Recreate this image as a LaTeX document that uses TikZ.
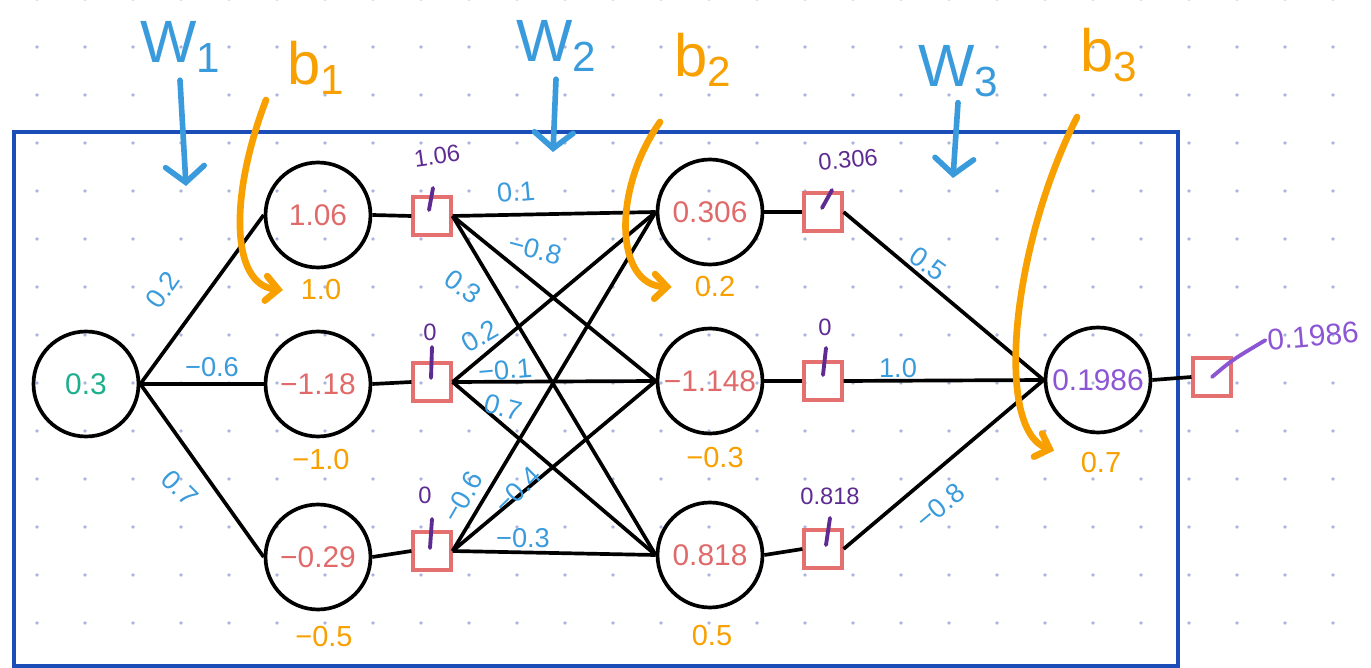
\documentclass[tikz,border=0pt]{standalone}
\usepackage{fontspec}
\setmainfont{Liberation Sans}
\usepackage{tikz}
\usetikzlibrary{
  arrows.meta,
  positioning,
  calc
}
\definecolor{frameBlue}{HTML}{1B4DB8}
\definecolor{dotGray}{HTML}{A9B6D8}
\definecolor{valRed}{HTML}{E06A6A}
\definecolor{boxRed}{HTML}{E57070}
\definecolor{wBlue}{HTML}{3A9BDC}
\definecolor{bOrange}{HTML}{F7A000}
\definecolor{inGreen}{HTML}{1DAF8C}
\definecolor{outPurple}{HTML}{8C55D4}
\definecolor{actPurple}{HTML}{5E2B92}
\newcommand{\lowsub}[1]{\raisebox{-6pt}{\fontsize{24}{26}\selectfont #1}}
\tikzset{
  neur/.style={
    circle, draw=black, line width=2.1pt, minimum size=2.1cm,
    inner sep=0pt, font=\fontsize{17}{20}\selectfont
  },
  actbox/.style={
    rectangle, draw=boxRed, line width=1.8pt, minimum size=0.76cm,
    inner sep=0pt
  },
  wlbl/.style={text=wBlue, font=\fontsize{15.5}{18}\selectfont, inner sep=1pt},
  blbl/.style={text=bOrange, font=\fontsize{16.5}{19}\selectfont, inner sep=1pt},
  albl/.style={text=actPurple, font=\fontsize{13.5}{16}\selectfont, inner sep=1pt},
  biglbl/.style={font=\fontsize{34}{38}\selectfont, inner sep=1pt},
  conn/.style={line width=2.1pt, draw=black},
  tick/.style={line width=2.2pt, draw=actPurple, line cap=round},
  warr/.style={line width=3.2pt, draw=wBlue, line cap=round,
    -{Straight Barb[length=9pt, width=22pt, line cap=round]}},
  barr/.style={line width=3.8pt, draw=bOrange, line cap=round,
    -{Straight Barb[length=7pt, width=14pt, line cap=round]}}
}

\begin{document}
\begin{tikzpicture}[x=0.02cm, y=-0.02cm]

    \useasboundingbox (0,0) rectangle (1371,668);

    % dotted paper
    \foreach \i in {0,...,27}{
      \foreach \j in {0,...,13}{
        \fill[dotGray] (37+48*\i, -1+48*\j) circle (1.1pt);
      }
    }

    \draw[frameBlue, line width=2.8pt] (14,132) rectangle (1178,666);

    % neurons
    \node[neur, text=inGreen] (inp) at (86,384) {0.3};

    \node[neur, text=valRed] (h1a) at (318,215) {1.06};
    \node[neur, text=valRed] (h1b) at (318,384) {−1.18};
    \node[neur, text=valRed] (h1c) at (318,557) {−0.29};

    \node[actbox] (q1a) at (432,216) {};
    \node[actbox] (q1b) at (432,382) {};
    \node[actbox] (q1c) at (432,551) {};

    \node[neur, text=valRed] (h2a) at (710,212) {0.306};
    \node[neur, text=valRed] (h2b) at (710,381) {−1.148};
    \node[neur, text=valRed] (h2c) at (710,555) {0.818};

    \node[actbox] (q2a) at (823,212) {};
    \node[actbox] (q2b) at (823,381) {};
    \node[actbox] (q2c) at (823,549) {};

    \node[neur, text=outPurple] (outn) at (1098,380) {0.1986};
    \node[actbox] (fsq) at (1212,377) {};

    % connections
    \draw[conn] (inp.east) -- (h1a.west);
    \draw[conn] (inp.east) -- (h1b.west);
    \draw[conn] (inp.east) -- (h1c.west);

    \draw[conn] (h1a.east) -- (q1a.west);
    \draw[conn] (h1b.east) -- (q1b.west);
    \draw[conn] (h1c.east) -- (q1c.west);

    \draw[conn] (q1a.east) -- (h2a.west);
    \draw[conn] (q1a.east) -- (h2b.west);
    \draw[conn] (q1a.east) -- (h2c.west);
    \draw[conn] (q1b.east) -- (h2a.west);
    \draw[conn] (q1b.east) -- (h2b.west);
    \draw[conn] (q1b.east) -- (h2c.west);
    \draw[conn] (q1c.east) -- (h2a.west);
    \draw[conn] (q1c.east) -- (h2b.west);
    \draw[conn] (q1c.east) -- (h2c.west);

    \draw[conn] (h2a.east) -- (q2a.west);
    \draw[conn] (h2b.east) -- (q2b.west);
    \draw[conn] (h2c.east) -- (q2c.west);

    \draw[conn] (q2a.east) -- (outn.west);
    \draw[conn] (q2b.east) -- (outn.west);
    \draw[conn] (q2c.east) -- (outn.west);

    \draw[conn] (outn.east) -- (fsq.west);

    % weights
    \node[wlbl, rotate=55] (w11) at (163,290) {0.2};
    \node[wlbl] (w12) at (212,367) {−0.6};
    \node[wlbl, rotate=-45] (w13) at (180,488) {0.7};

    \node[wlbl, rotate=5] (w21) at (516,192) {0.1};
    \node[wlbl, rotate=-15] (w22) at (535,249) {−0.8};
    \node[wlbl, rotate=-35] (w23) at (463,287) {0.3};
    \node[wlbl, rotate=30] (w24) at (480,336) {0.2};
    \node[wlbl, rotate=5] (w25) at (505,370) {−0.1};
    \node[wlbl, rotate=-15] (w26) at (503,407) {0.7};
    \node[wlbl, rotate=60] (w27) at (463,497) {−0.6};
    \node[wlbl, rotate=45] (w28) at (518,490) {−0.4};
    \node[wlbl] (w29) at (523,538) {−0.3};

    \node[wlbl, rotate=-35] (w31) at (928,264) {0.5};
    \node[wlbl] (w32) at (898,368) {1.0};
    \node[wlbl, rotate=40] (w33) at (940,506) {−0.8};

    % biases
    \node[blbl] (bb11) at (321,290) {1.0};
    \node[blbl] (bb12) at (321,460) {−1.0};
    \node[blbl] (bb13) at (324,637) {−0.5};
    \node[blbl] (bb21) at (715,287) {0.2};
    \node[blbl] (bb22) at (715,458) {−0.3};
    \node[blbl] (bb23) at (712,636) {0.5};
    \node[blbl] (bb31) at (1101,463) {0.7};

    % activations
    \node[albl, rotate=8] (a11) at (437,156) {1.06};
    \node[albl] (a12) at (430,332) {0};
    \node[albl] (a13) at (425,495) {0};
    \node[albl, rotate=5] (a21) at (848,160) {0.306};
    \node[albl] (a22) at (825,327) {0};
    \node[albl] (a23) at (830,496) {0.818};
    \node[text=outPurple, font=\fontsize{17}{20}\selectfont, inner sep=1pt,
          rotate=5] (fval) at (1313,336) {0.1986};

    \draw[tick] ($(q1a)+(1,-28)$) -- ($(q1a)+(-3,-6)$);
    \draw[tick] ($(q1b)+(0,-35)$) -- ($(q1b)+(-1,-4)$);
    \draw[tick] ($(q1c)+(0,-32)$) -- ($(q1c)+(-2,-3)$);
    \draw[tick] ($(q2a)+(9,-22)$) -- ($(q2a)+(-1,-4)$);
    \draw[tick] ($(q2b)+(3,-33)$) -- ($(q2b)+(0,-6)$);
    \draw[tick] ($(q2c)+(7,-31)$) -- ($(q2c)+(3,-4)$);
    \draw[tick, draw=outPurple] (fsq.center) .. controls (1232,360) .. (fval.west);

    % parameter names
    \node[biglbl, text=wBlue] (W1) at (180,47) {W\lowsub{1}};
    \node[biglbl, text=bOrange] (b1) at (316,68) {b\lowsub{1}};
    \node[biglbl, text=wBlue] (W2) at (556,46) {W\lowsub{2}};
    \node[biglbl, text=bOrange] (b2) at (703,60) {b\lowsub{2}};
    \node[biglbl, text=wBlue] (W3) at (958,71) {W\lowsub{3}};
    \node[biglbl, text=bOrange] (b3) at (1109,55) {b\lowsub{3}};

    \coordinate (w1tip) at (186,186);
    \coordinate (w2tip) at (553,152);
    \coordinate (w3tip) at (953,178);
    \draw[warr] ([yshift=-3pt]W1.south) -- (w1tip);
    \draw[warr] ([yshift=-3pt]W2.south) -- (w2tip);
    \draw[warr] ([yshift=-2pt]W3.south) -- (w3tip);

    \coordinate (b1from) at (266,100);
    \coordinate (b2from) at (660,122);
    \coordinate (b3from) at (1077,117);
    \draw[barr] (b1from) .. controls (228,200) and (232,285) .. ([xshift=-9pt]bb11.west);
    \draw[barr] (b2from) .. controls (612,190) and (615,285) .. ([xshift=-12pt]bb21.west);
    \draw[barr] (b3from) .. controls (1010,250) and (995,430) .. ([xshift=-14pt]bb31.north west);

  \end{tikzpicture}
\end{document}
